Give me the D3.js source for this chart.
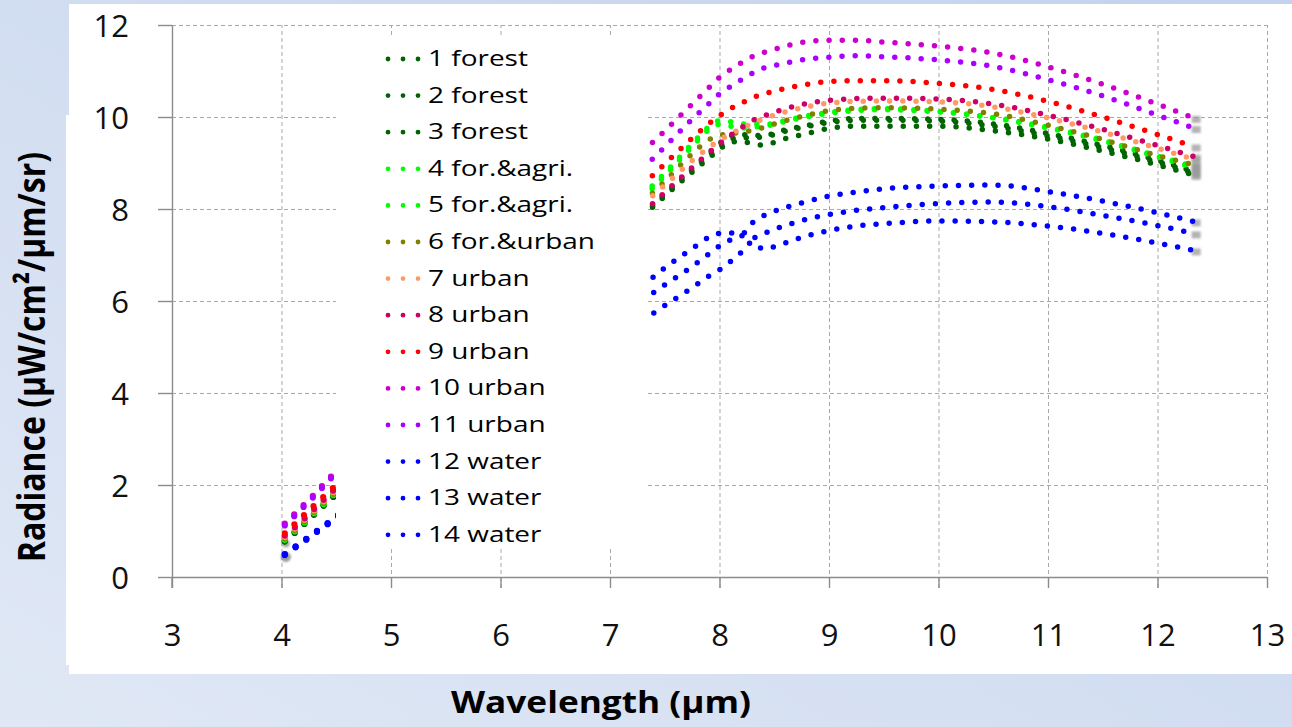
<!DOCTYPE html>
<html>
<head>
<meta charset="utf-8">
<script src="https://cdn.jsdelivr.net/npm/d3@7"></script>
<style>
  html, body { margin: 0; padding: 0; background: #ffffff; }
  svg { display: block; }
</style>
</head>
<body>
<svg id="chart" width="1292" height="727"></svg>
<script>
// ---- data -------------------------------------------------------------
const seriesNames = [
  "1 forest", "2 forest", "3 forest", "4 for.&agri.", "5 for.&agri.",
  "6 for.&urban", "7 urban", "8 urban", "9 urban", "10 urban", "11 urban",
  "12 water", "13 water", "14 water"
];
const seriesColors = [
  "#006400", "#006400", "#006400", "#00ff00", "#00ff00",
  "#808000", "#ff9966", "#cc0066", "#ff0000", "#cc00cc", "#aa00ff",
  "#0000ff", "#0000ff", "#0000ff"
];
const xTicks = [3, 4, 5, 6, 7, 8, 9, 10, 11, 12, 13];
const yTicks = [0, 2, 4, 6, 8, 10, 12];

// mid-wave band (µm)
const wavelengthsMW = [4.03, 4.15, 4.3, 4.45, 4.6];
// long-wave band (µm)
const wavelengthsLW = [7.3, 7.5, 7.75, 7.9, 8.0, 8.1, 8.2, 8.3, 8.4, 8.5, 8.6,
                       8.75, 9.0, 9.25, 9.5, 10.0, 10.5, 11.0, 11.5, 12.0, 12.33];

// radiance, µW/cm²/µm/sr, one row per series
const radianceMW = [
  [0.79, 1.04, 1.38, 1.71, 2.04],
  [0.78, 1.03, 1.37, 1.70, 2.03],
  [0.77, 1.02, 1.36, 1.69, 2.02],
  [0.82, 1.06, 1.40, 1.74, 2.08],
  [0.81, 1.05, 1.39, 1.73, 2.07],
  [0.84, 1.08, 1.42, 1.76, 2.10],
  [0.87, 1.11, 1.45, 1.79, 2.13],
  [0.90, 1.14, 1.48, 1.83, 2.17],
  [0.95, 1.22, 1.56, 1.89, 2.22],
  [1.16, 1.44, 1.80, 2.18, 2.55],
  [1.12, 1.40, 1.76, 2.14, 2.51],
  [0.50, 0.70, 0.96, 1.22, 1.50],
  [0.49, 0.69, 0.95, 1.21, 1.49],
  [0.48, 0.68, 0.94, 1.20, 1.48]
];
const radianceLW = [
  [7.90, 8.34, 8.88, 9.20, 9.42, 9.60, 9.62, 9.60, 9.60, 9.64, 9.72, 9.79, 9.91, 9.97, 9.97, 9.95, 9.85, 9.64, 9.38, 9.06, 8.82],
  [7.87, 8.31, 8.85, 9.16, 9.36, 9.52, 9.55, 9.55, 9.57, 9.62, 9.69, 9.77, 9.88, 9.93, 9.93, 9.91, 9.80, 9.59, 9.33, 9.02, 8.78],
  [7.84, 8.28, 8.80, 9.10, 9.30, 9.45, 9.47, 9.42, 9.39, 9.45, 9.53, 9.61, 9.75, 9.80, 9.80, 9.80, 9.70, 9.52, 9.26, 8.96, 8.74],
  [8.30, 8.78, 9.42, 9.78, 9.92, 9.90, 9.85, 9.85, 9.84, 9.86, 9.92, 10.00, 10.10, 10.16, 10.18, 10.12, 9.98, 9.76, 9.48, 9.13, 8.90],
  [8.24, 8.72, 9.36, 9.72, 9.84, 9.80, 9.76, 9.78, 9.80, 9.84, 9.90, 9.98, 10.08, 10.14, 10.16, 10.11, 9.99, 9.78, 9.50, 9.15, 8.93],
  [8.15, 8.60, 9.20, 9.50, 9.60, 9.64, 9.67, 9.71, 9.77, 9.85, 9.92, 10.01, 10.14, 10.19, 10.20, 10.17, 10.07, 9.82, 9.51, 9.16, 8.96],
  [8.10, 8.52, 9.05, 9.33, 9.50, 9.63, 9.75, 9.86, 9.96, 10.04, 10.11, 10.20, 10.30, 10.34, 10.35, 10.33, 10.22, 9.98, 9.67, 9.32, 9.08],
  [7.92, 8.36, 8.90, 9.22, 9.42, 9.60, 9.77, 9.92, 10.02, 10.10, 10.18, 10.27, 10.36, 10.40, 10.41, 10.39, 10.28, 10.04, 9.73, 9.38, 9.14],
  [8.52, 8.98, 9.54, 9.85, 10.03, 10.18, 10.30, 10.42, 10.50, 10.56, 10.62, 10.69, 10.77, 10.79, 10.79, 10.73, 10.60, 10.34, 10.00, 9.62, 9.36],
  [9.25, 9.70, 10.28, 10.63, 10.86, 11.03, 11.18, 11.31, 11.40, 11.47, 11.54, 11.62, 11.67, 11.67, 11.63, 11.54, 11.39, 11.09, 10.71, 10.28, 9.98],
  [8.88, 9.35, 9.95, 10.28, 10.50, 10.66, 10.81, 10.95, 11.06, 11.12, 11.17, 11.24, 11.30, 11.33, 11.31, 11.24, 11.10, 10.81, 10.46, 10.04, 9.76],
  [6.33, 6.72, 7.14, 7.38, 7.47, 7.48, 7.45, 7.70, 7.85, 7.95, 8.03, 8.13, 8.28, 8.37, 8.44, 8.50, 8.52, 8.38, 8.17, 7.92, 7.73],
  [6.02, 6.35, 6.75, 7.02, 7.20, 7.33, 7.42, 7.37, 7.46, 7.56, 7.64, 7.75, 7.88, 7.97, 8.03, 8.12, 8.15, 8.05, 7.86, 7.64, 7.47],
  [5.58, 5.90, 6.29, 6.54, 6.68, 6.86, 7.06, 7.28, 7.13, 7.18, 7.26, 7.38, 7.53, 7.63, 7.68, 7.74, 7.72, 7.63, 7.47, 7.26, 7.10]
];

// ---- layout -----------------------------------------------------------
const svg = d3.select("#chart");
const x = d3.scaleLinear().domain([3, 13]).range([172, 1267]);
const y = d3.scaleLinear().domain([0, 12]).range([577, 25]);

const FONT = "'Open Sans', 'DejaVu Sans', sans-serif";
const axisColor = "#8c8c8c";
const gridColor = "#a9a9a9";

// slide background
const defs = svg.append("defs");
const bg = defs.append("linearGradient").attr("id", "bgGrad")
  .attr("x1", 0).attr("y1", 1).attr("x2", 1).attr("y2", 0);
bg.append("stop").attr("offset", 0).attr("stop-color", "#e0e8f5");
bg.append("stop").attr("offset", 1).attr("stop-color", "#c3d2ed");
defs.append("filter").attr("id", "soft").attr("x", "-100%").attr("y", "-100%")
  .attr("width", "300%").attr("height", "300%")
  .append("feGaussianBlur").attr("stdDeviation", 1.3);
svg.append("rect").attr("width", 1292).attr("height", 727).attr("fill", "url(#bgGrad)");

// chart panel
svg.append("rect").attr("x", 69).attr("y", 4).attr("width", 1223).attr("height", 670).attr("fill", "#ffffff");
svg.append("rect").attr("x", 66).attr("y", 115).attr("width", 12).attr("height", 550).attr("fill", "#ffffff");

// gridlines
const yGrid = svg.append("g").attr("transform", "translate(158,0)")
  .call(d3.axisLeft(y).tickValues(yTicks.filter(v => v > 0)).tickSize(-(1267 - 158)).tickFormat(""));
const xGrid = svg.append("g").attr("transform", "translate(0,588)")
  .call(d3.axisBottom(x).tickValues(xTicks.filter(v => v > 3)).tickSize(-(588 - 25)).tickFormat(""));
[yGrid, xGrid].forEach(g => {
  g.select(".domain").remove();
  g.selectAll("line").attr("stroke", gridColor).attr("stroke-width", 1).attr("stroke-dasharray", "4 3");
});

// series: round-dot lines
const line = d3.line().x(d => x(d[0])).y(d => y(d[1])).curve(d3.curveMonotoneX);
const dotStyle = (sel, color, width) => sel
  .attr("fill", "none").attr("stroke", color).attr("stroke-width", width)
  .attr("stroke-linecap", "round").attr("stroke-dasharray", "0 13.2");

// soft grey shadow blobs left at the end of each long-wave line
const shadowG = svg.append("g").attr("filter", "url(#soft)");
seriesNames.forEach((name, i) => {
  const last = radianceLW[i][radianceLW[i].length - 1];
  const xe = x(wavelengthsLW[wavelengthsLW.length - 1]);
  shadowG.append("rect").attr("x", xe - 2).attr("y", y(last) - 2)
    .attr("width", 9).attr("height", 7).attr("fill", "#9a9a9a").attr("opacity", 0.75);
});
// dark halo under the first mid-wave points
shadowG.append("circle").attr("cx", x(wavelengthsMW[0]) + 1).attr("cy", y(radianceMW[13][0]) + 2)
  .attr("r", 5).attr("fill", "#555555").attr("opacity", 0.6);
shadowG.append("circle").attr("cx", x(wavelengthsMW[0]) + 1).attr("cy", y(radianceMW[2][0]) + 2)
  .attr("r", 4).attr("fill", "#555555").attr("opacity", 0.5);

const seriesG = svg.append("g");
seriesNames.forEach((name, i) => {
  const mw = wavelengthsMW.map((w, k) => [w, radianceMW[i][k]]);
  const lw = wavelengthsLW.map((w, k) => [w, radianceLW[i][k]]);
  seriesG.append("path").attr("d", line(mw)).call(dotStyle, seriesColors[i], 6.2);
  seriesG.append("path").attr("d", line(lw)).call(dotStyle, seriesColors[i], 5.5);
});

// axes
const yAxis = svg.append("g").attr("transform", "translate(172,0)")
  .call(d3.axisLeft(y).tickValues(yTicks).tickSize(14).tickSizeOuter(0).tickPadding(29));
const xAxis = svg.append("g").attr("transform", "translate(0,577)")
  .call(d3.axisBottom(x).tickValues(xTicks).tickSize(11).tickSizeOuter(0).tickPadding(36));
[yAxis, xAxis].forEach(g => {
  g.select(".domain").attr("stroke", axisColor).attr("stroke-width", 1.4);
  g.selectAll("line").attr("stroke", axisColor).attr("stroke-width", 1.4);
  g.selectAll("text").attr("font-family", FONT).attr("font-size", 31).attr("fill", "#111111");
});
yAxis.selectAll("text").attr("dy", "0.357em");
svg.append("line").attr("x1", 172).attr("x2", 172).attr("y1", 577).attr("y2", 588)
  .attr("stroke", axisColor).attr("stroke-width", 1.4);

// legend
const legend = svg.append("g");
legend.append("rect").attr("x", 336).attr("y", 37).attr("width", 312).attr("height", 512).attr("fill", "#ffffff");
seriesNames.forEach((name, i) => {
  const ly = 59 + i * 36.6;
  legend.append("path").attr("d", `M388,${ly}H418.05`).call(dotStyle, seriesColors[i], 4.8)
    .attr("stroke-dasharray", "0 15");
  const t = legend.append("text").attr("x", 428).attr("y", ly + 7)
    .attr("font-family", FONT).attr("font-size", 21.5).attr("fill", "#000000").text(name);
  const w = t.node().getComputedTextLength();
  t.attr("textLength", w * 1.3).attr("lengthAdjust", "spacingAndGlyphs");
});

// axis titles
svg.append("text")
  .attr("transform", "translate(45,562) scale(1.28,1) rotate(-90)")
  .attr("font-family", FONT).attr("font-weight", 700).attr("font-size", 29.5)
  .attr("fill", "#000000").attr("textLength", 410).attr("lengthAdjust", "spacingAndGlyphs")
  .text("Radiance (μW/cm²/μm/sr)");
svg.append("text")
  .attr("x", 451).attr("y", 713)
  .attr("font-family", FONT).attr("font-weight", 700).attr("font-size", 30)
  .attr("fill", "#000000").attr("textLength", 300).attr("lengthAdjust", "spacingAndGlyphs")
  .text("Wavelength (μm)");
</script>
</body>
</html>
